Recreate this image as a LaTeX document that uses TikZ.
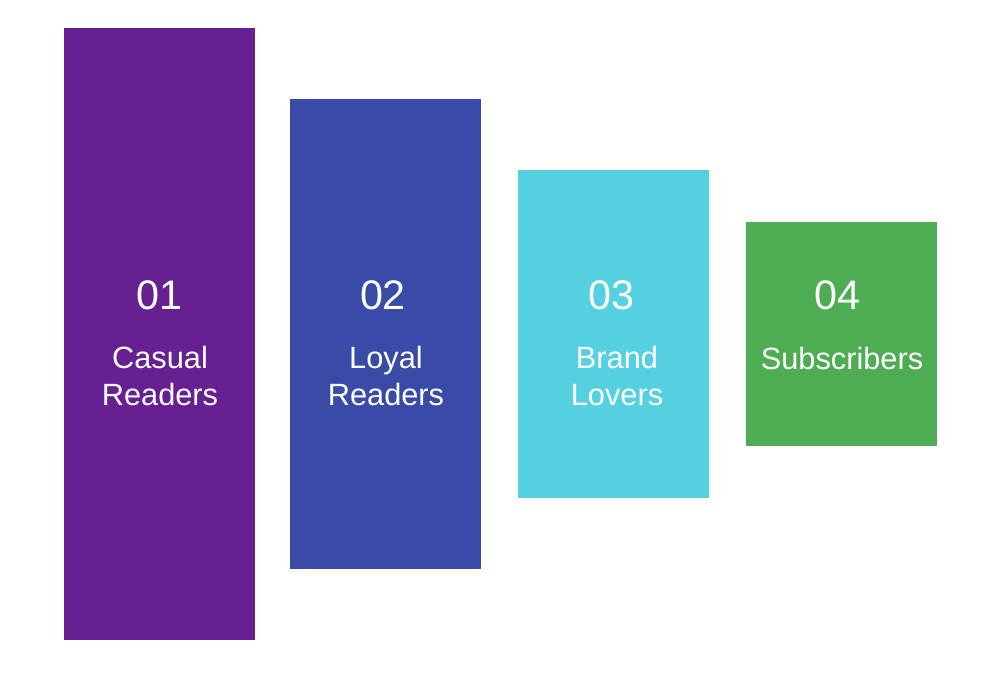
\documentclass[tikz,border=0pt]{standalone}
\usepackage{fontspec}
\setmainfont{Liberation Sans}
\usetikzlibrary{positioning}
\definecolor{barpurple}{RGB}{102,32,145}
\definecolor{barblue}{RGB}{57,75,166}
\definecolor{barcyan}{RGB}{84,208,224}
\definecolor{bargreen}{RGB}{78,173,82}

\begin{document}
\begin{tikzpicture}[
            x=0.2mm, y=-0.2mm,
            bar/.style={inner sep=0pt, minimum width=38.2mm},
            num/.style={text=white, font=\fontsize{23.5}{28}\selectfont},
            lbl/.style={text=white, align=center, font=\fontsize{17.5}{20.5}\selectfont}
        ]
            \useasboundingbox (0,0) rectangle (1000,689);

            \node[bar, fill=barpurple, minimum height=122.4mm] (b1) at (159.5,334) {};
            \node[bar, fill=barblue, minimum height=94mm] (b2) at (385,334) {};
            \node[bar, fill=barcyan, minimum height=65.6mm] (b3) at (613.5,334) {};
            \node[bar, fill=bargreen, minimum height=44.8mm] (b4) at (841,334) {};

            \node[num] (n1) at (159.5,295) {01};
            \node[num] (n2) at (383,295) {02};
            \node[num] (n3) at (611,295) {03};
            \node[num] (n4) at (837,295) {04};

            \node[lbl] (l1) at (160,376) {Casual\\Readers};
            \node[lbl] (l2) at (386,376) {Loyal\\Readers};
            \node[lbl] (l3) at (617,376) {Brand\\Lovers};
            \node[lbl] (l4) at (842,358) {Subscribers};
        \end{tikzpicture}
\end{document}
